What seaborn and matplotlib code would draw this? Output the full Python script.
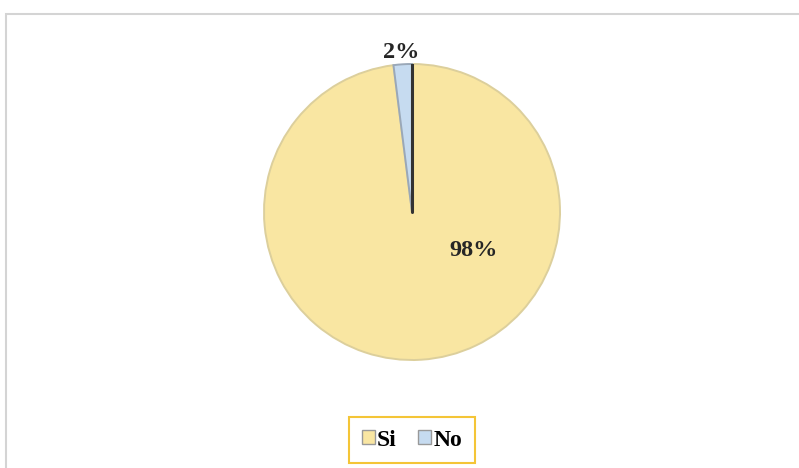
import matplotlib
matplotlib.use("Agg")
import matplotlib.pyplot as plt
from matplotlib.patches import Rectangle, Patch
import seaborn as sns

categories = ["Si", "No"]
values = [98, 2]
labels = ["98%", "2%"]
colors = ["#F9E6A2", "#C6DBF0"]

sns.set_theme(style="white")
plt.rcParams["font.family"] = ["Liberation Serif", "DejaVu Serif"]

W, H = 799, 468
fig = plt.figure(figsize=(W / 100, H / 100), dpi=100)

# outer chart frame (cut off at right and bottom)
fig.patches.append(Rectangle((6 / W, -0.1), 1.2, (H - 14) / H + 0.1,
                             transform=fig.transFigure, fill=False,
                             edgecolor="#D4D4D4", linewidth=1.5))

cx, cy, r = 412, 212, 148
ax = fig.add_axes([(cx - r) / W, (H - cy - r) / H, 2 * r / W, 2 * r / H])
wedges, _ = ax.pie(values, colors=colors, startangle=90, counterclock=False,
                   wedgeprops={"edgecolor": "#DCCF9C", "linewidth": 1.4})
wedges[1].set_edgecolor("#9AA8B8")
ax.plot([0, 0], [0, 1], color="#333333", lw=2.2)
ax.set_aspect("equal")
ax.set_xlim(-1, 1)
ax.set_ylim(-1, 1)
ax.axis("off")

fig.text(474 / W, 1 - 250 / H, labels[0], ha="center", va="center",
         fontsize=17.5, fontweight="bold", color="#262626")
fig.text(401 / W, 1 - 52 / H, labels[1], ha="center", va="center",
         fontsize=17.5, fontweight="bold", color="#262626")

handles = [Patch(facecolor=c, edgecolor="#999999") for c in colors]
leg = fig.legend(handles, categories, loc="center", bbox_to_anchor=(412 / W, 1 - 440 / H),
                 ncol=2, frameon=True, handlelength=0.55, handleheight=0.55,
                 handletextpad=0.1, columnspacing=0.9,
                 prop={"weight": "bold", "size": 17})
for t in leg.get_texts():
    t.set_color("black")
leg.get_frame().set_edgecolor("#F2B705")
leg.get_frame().set_linewidth(1.5)
leg.get_frame().set_boxstyle("square", pad=0.15)

fig.savefig("out.png", dpi=100)
